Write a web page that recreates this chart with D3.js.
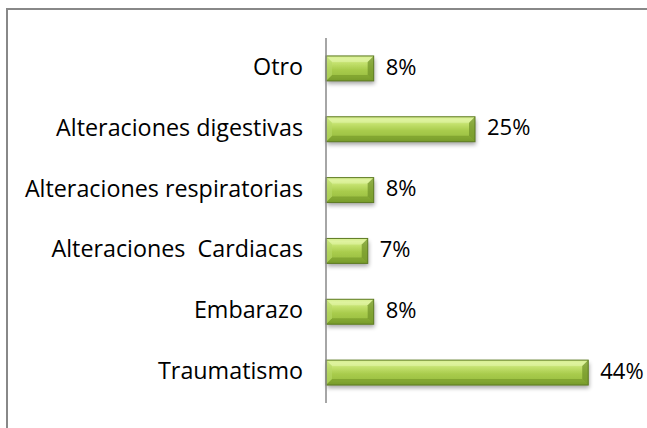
<!DOCTYPE html>
<html><head><meta charset="utf-8">
<script src="https://cdn.jsdelivr.net/npm/d3@7"></script>
<style>html,body{margin:0;padding:0;background:#fff;}svg{display:block;}</style>
</head><body>
<script>
const categories = ["Otro","Alteraciones digestivas","Alteraciones respiratorias","Alteraciones  Cardiacas","Embarazo","Traumatismo"];
const values = [0.08,0.25,0.08,0.07,0.08,0.44];
const valueLabels = ["8%","25%","8%","7%","8%","44%"];

const W=647,H=428;
const svg=d3.select("body").append("svg").attr("width",W).attr("height",H);
const defs=svg.append("defs");
const g1=defs.append("linearGradient").attr("id","barg").attr("x1",0).attr("y1",0).attr("x2",0).attr("y2",1);
[[0,"#c4e36f"],[0.12,"#d9f095"],[0.3,"#c2e06c"],[0.55,"#a9cc4d"],[0.85,"#9abf40"],[1,"#83a832"]].forEach(s=>g1.append("stop").attr("offset",s[0]).attr("stop-color",s[1]));
const f=defs.append("filter").attr("id","sh").attr("x","-10%").attr("y","-30%").attr("width","130%").attr("height","190%");
f.append("feGaussianBlur").attr("in","SourceAlpha").attr("stdDeviation",2);
f.append("feOffset").attr("dx",1).attr("dy",3).attr("result","b");
f.append("feComponentTransfer").append("feFuncA").attr("type","linear").attr("slope",0.35);
const fm=f.append("feMerge");fm.append("feMergeNode");fm.append("feMergeNode").attr("in","SourceGraphic");

// border (only top & left visible)
svg.append("rect").attr("x",7).attr("y",9).attr("width",W).attr("height",H).attr("fill","none").attr("stroke","#888").attr("stroke-width",2);

const x=d3.scaleLinear().domain([0,0.5]).range([326,624]);
const y=d3.scaleBand().domain(categories).range([38,403]).paddingInner(0.59).paddingOuter(0.295);

const bars=svg.append("g").selectAll("g").data(categories).join("g")
  .attr("transform",(d,i)=>`translate(${x(0)},${y(d)})`);
const bh=y.bandwidth();
bars.each(function(d,i){
  const gg=d3.select(this);
  const w=x(values[i])-x(0);
  const b=Math.min(6,bh*0.25);
  gg.append("rect").attr("width",w).attr("height",bh).attr("fill","url(#barg)").attr("filter","url(#sh)");
  gg.append("path").attr("d",`M0,0H${w}L${w-b},${b}H${b}Z`).attr("fill","#e4f6a8").attr("opacity",0.55);
  gg.append("path").attr("d",`M0,${bh}H${w}L${w-b},${bh-b}H${b}Z`).attr("fill","#6d8f25").attr("opacity",0.55);
  gg.append("path").attr("d",`M0,0L${b},${b}V${bh-b}L0,${bh}Z`).attr("fill","#b8d868").attr("opacity",0.6);
  gg.append("path").attr("d",`M${w},0L${w-b},${b}V${bh-b}L${w},${bh}Z`).attr("fill","#6f9228").attr("opacity",0.7);
  gg.append("rect").attr("width",w).attr("height",bh).attr("fill","none").attr("stroke","#5d7a22").attr("stroke-width",1);
});

svg.append("line").attr("x1",326).attr("x2",326).attr("y1",38).attr("y2",403).attr("stroke","#888").attr("stroke-width",1.5);

const font="'Open Sans', sans-serif";
svg.append("g").selectAll("text").data(categories).join("text")
  .attr("x",303).attr("y",d=>y(d)+bh/2).attr("dy","0.28em").attr("text-anchor","end")
  .attr("font-family",font).attr("font-size",23.3).attr("fill","#000")
  .attr("xml:space","preserve").text(d=>d);
svg.append("g").selectAll("text").data(categories).join("text")
  .attr("x",(d,i)=>x(values[i])+12).attr("y",d=>y(d)+bh/2).attr("dy","0.28em")
  .attr("font-family",font).attr("font-size",22).attr("fill","#000").text((d,i)=>valueLabels[i]);
</script>
</body></html>
